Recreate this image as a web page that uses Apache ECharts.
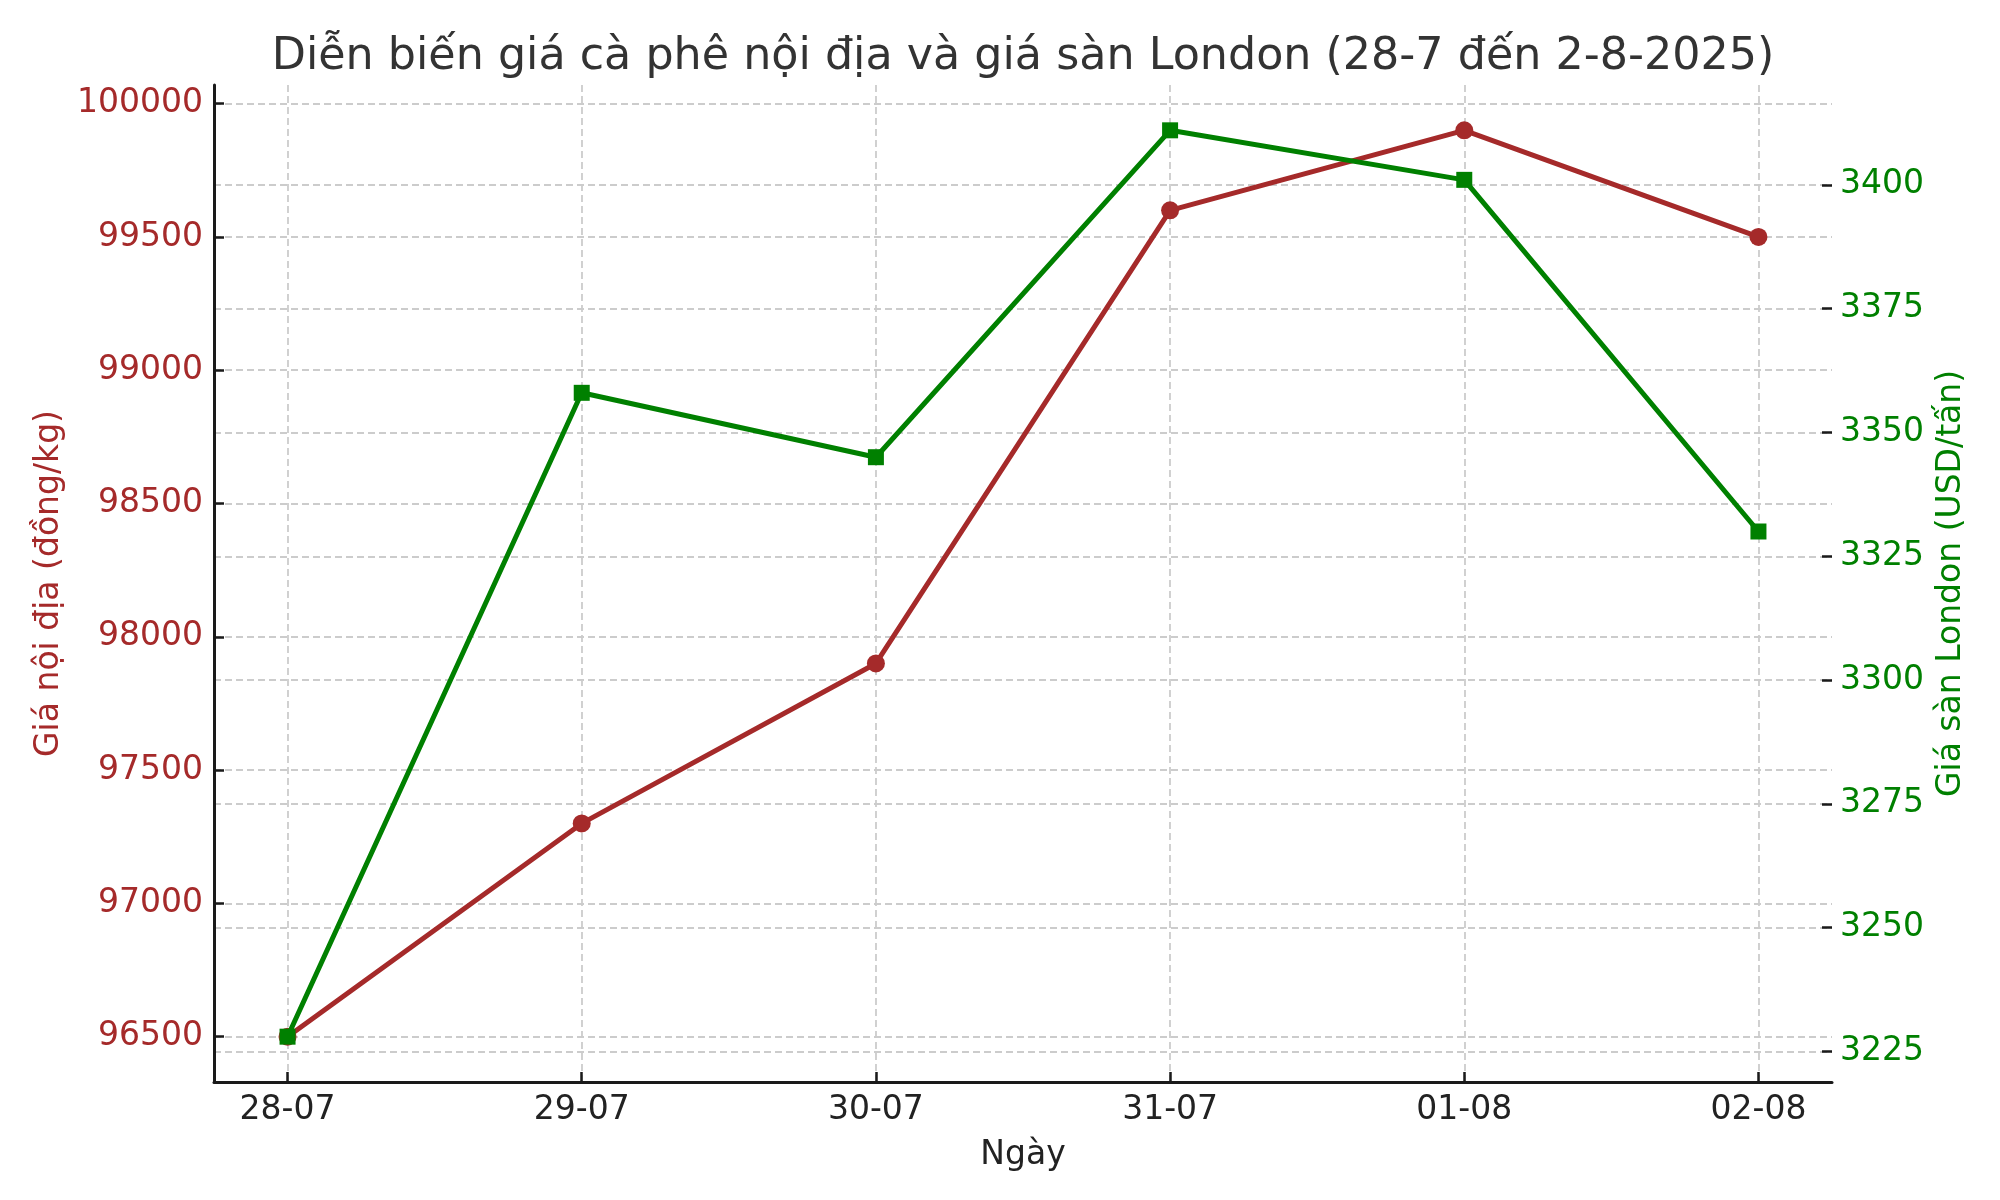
<!DOCTYPE html>
<html>
<head>
<meta charset="utf-8">
<script src="https://cdn.jsdelivr.net/npm/echarts@6/dist/echarts.min.js"></script>
<style>
html,body{margin:0;padding:0;background:#fff;}
#c{width:2000px;height:1200px;}
</style>
</head>
<body>
<div id="c"></div>
<script>
const categories = ['28-07', '29-07', '30-07', '31-07', '01-08', '02-08'];
const domesticPrice = [96500, 97300, 97900, 99600, 99900, 99500];
const londonPrice = [3228, 3358, 3345, 3411, 3401, 3330];
const leftTicks = [96500, 97000, 97500, 98000, 98500, 99000, 99500, 100000];
const rightTicks = [3225, 3250, 3275, 3300, 3325, 3350, 3375, 3400];

const FONT = 'DejaVu Sans';
const RED = '#a52a2a';
const GREEN = '#008000';
const xIdx = categories.map((c, i) => i);

const chart = echarts.init(document.getElementById('c'), null, {renderer: 'canvas'});
const dashed = {show: true, lineStyle: {color: '#cccccc', width: 1.8, type: [7, 4]}};

chart.setOption({
  backgroundColor: '#ffffff',
  animation: false,
  title: {
    text: 'Diễn biến giá cà phê nội địa và giá sàn London (28-7 đến 2-8-2025)',
    left: 1018, top: 30, textAlign: 'center',
    textStyle: {fontFamily: FONT, fontSize: 44.4, fontWeight: 'normal', color: '#333333'}
  },
  grid: {left: 214, right: 168, top: 85, bottom: 118},
  xAxis: {
    type: 'value', min: -0.25, max: 5.25,
    name: 'Ngày', nameLocation: 'middle', nameGap: 57,
    nameTextStyle: {fontFamily: FONT, fontSize: 33, color: '#222222'},
    axisLine: {show: true, onZero: false, lineStyle: {color: '#1a1a1a', width: 3}},
    axisTick: {show: true, inside: true, length: 10, customValues: xIdx, lineStyle: {color: '#1a1a1a', width: 2.5}},
    axisLabel: {customValues: xIdx, margin: 12, fontFamily: FONT, fontSize: 33, color: '#222222',
      formatter: v => categories[Math.round(v)]},
    splitLine: dashed
  },
  yAxis: [{
    type: 'value', position: 'left', min: 96330, max: 100070,
    name: 'Giá nội địa (đồng/kg)', nameLocation: 'middle', nameGap: 141, nameRotate: 90,
    nameTextStyle: {fontFamily: FONT, fontSize: 33, color: RED},
    axisLine: {show: true, onZero: false, lineStyle: {color: '#1a1a1a', width: 3}},
    axisTick: {show: true, inside: true, length: 10, customValues: leftTicks, lineStyle: {color: '#1a1a1a', width: 2.5}},
    axisLabel: {customValues: leftTicks, margin: 11, fontFamily: FONT, fontSize: 33, color: RED,
      formatter: v => String(v)},
    splitLine: dashed
  }, {
    type: 'value', position: 'right', min: 3218.85, max: 3420.15,
    name: 'Giá sàn London (USD/tấn)', nameLocation: 'middle', nameGap: 99, nameRotate: 90,
    nameTextStyle: {fontFamily: FONT, fontSize: 33, color: GREEN},
    axisLine: {show: false, onZero: false},
    axisTick: {show: true, inside: true, length: 10, customValues: rightTicks, lineStyle: {color: '#1a1a1a', width: 2.5}},
    axisLabel: {customValues: rightTicks, margin: 8, fontFamily: FONT, fontSize: 33, color: GREEN,
      formatter: v => String(v)},
    splitLine: dashed
  }],
  series: [{
    name: 'Giá nội địa', type: 'line', yAxisIndex: 0,
    data: domesticPrice.map((v, i) => [i, v]),
    symbol: 'circle', symbolSize: 18,
    lineStyle: {color: RED, width: 5}, itemStyle: {color: RED}, z: 3
  }, {
    name: 'Giá sàn London', type: 'line', yAxisIndex: 1,
    data: londonPrice.map((v, i) => [i, v]),
    symbol: 'rect', symbolSize: 16,
    lineStyle: {color: GREEN, width: 5}, itemStyle: {color: GREEN}, z: 4
  }]
});
</script>
</body>
</html>
